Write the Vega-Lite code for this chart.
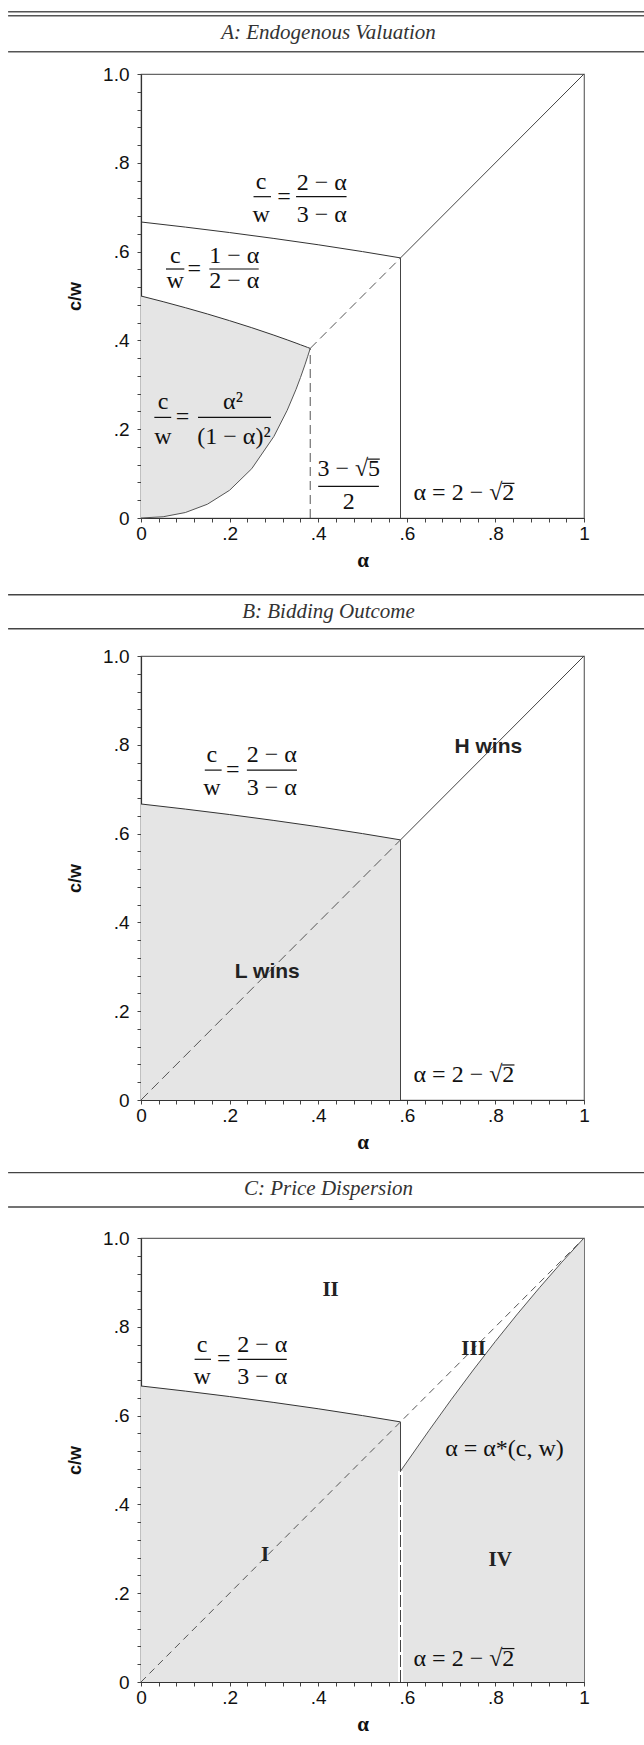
{
  "$schema": "https://vega.github.io/schema/vega-lite/v6.json",
  "autosize": {"type": "pad"},
  "padding": {"left": 6, "top": 10, "right": 0, "bottom": 0},
  "background": "white",
  "spacing": 138,
  "bounds": "flush",
  "config": {
    "view": {"stroke": "#666", "strokeWidth": 1.2},
    "axis": {"grid": false, "domainColor": "#333", "domainWidth": 1.2, "tickColor": "#444", "tickSize": 4, "tickWidth": 1, "tickCount": 40, "labelFont": "Liberation Sans", "labelFontSize": 19, "labelColor": "#111", "labelFlush": false, "labelOverlap": false, "titleColor": "#111"},
    "axisX": {"labelPadding": 2, "titleFont": "Liberation Serif", "titleFontSize": 21, "titleFontWeight": "bold", "titlePadding": 6},
    "axisY": {"labelPadding": 8, "titleFont": "Liberation Sans", "titleFontSize": 18, "titleFontWeight": "bold", "titlePadding": 18},
    "text": {"font": "Liberation Serif", "fontSize": 24, "color": "#111"},
    "line": {"color": "#333", "strokeWidth": 1},
    "rule": {"color": "#333", "strokeWidth": 1}
  },
  "datasets": {
    "shadeA": [
      {"a": 0, "top": 0.5, "bot": 0},
      {"a": 0.05, "top": 0.4872, "bot": 0.0028},
      {"a": 0.1, "top": 0.4737, "bot": 0.0123},
      {"a": 0.15, "top": 0.4595, "bot": 0.0311},
      {"a": 0.2, "top": 0.4444, "bot": 0.0625},
      {"a": 0.25, "top": 0.4286, "bot": 0.1111},
      {"a": 0.3, "top": 0.4118, "bot": 0.1837},
      {"a": 0.33, "top": 0.4012, "bot": 0.2426},
      {"a": 0.35, "top": 0.3939, "bot": 0.2899},
      {"a": 0.36, "top": 0.3902, "bot": 0.3164},
      {"a": 0.37, "top": 0.3865, "bot": 0.3449},
      {"a": 0.376, "top": 0.3842, "bot": 0.3631},
      {"a": 0.382, "top": 0.382, "bot": 0.382}
    ],
    "upper": [
      {"a": 0, "v": 0.6667}, {"a": 0.1, "v": 0.6552}, {"a": 0.2, "v": 0.6429}, {"a": 0.3, "v": 0.6296},
      {"a": 0.4, "v": 0.6154}, {"a": 0.5, "v": 0.6}, {"a": 0.5858, "v": 0.5858}
    ],
    "astar": [
      {"a": 0.5858, "v": 0.475}, {"a": 0.65, "v": 0.5663}, {"a": 0.7, "v": 0.6357}, {"a": 0.75, "v": 0.7027},
      {"a": 0.8, "v": 0.7672}, {"a": 0.85, "v": 0.8292}, {"a": 0.9, "v": 0.8886}, {"a": 0.95, "v": 0.9456}, {"a": 1, "v": 1}
    ],
    "segs": [
      {"p": "A", "seg": "diag_inner", "x": 0.382, "y": 0.382, "x2": 0.5858, "y2": 0.5858},
      {"p": "A", "seg": "diag_outer", "x": 0.5858, "y": 0.5858, "x2": 1, "y2": 1},
      {"p": "A", "seg": "v_3s5", "x": 0.382, "y": 0, "x2": 0.382, "y2": 0.382},
      {"p": "A", "seg": "v_2s2", "x": 0.5858, "y": 0, "x2": 0.5858, "y2": 0.5858},
      {"p": "B", "seg": "diag_inner", "x": 0, "y": 0, "x2": 0.5858, "y2": 0.5858},
      {"p": "B", "seg": "diag_outer", "x": 0.5858, "y": 0.5858, "x2": 1, "y2": 1},
      {"p": "B", "seg": "v_2s2", "x": 0.5858, "y": 0, "x2": 0.5858, "y2": 0.5858},
      {"p": "C", "seg": "diag_full", "x": 0, "y": 0, "x2": 1, "y2": 1},
      {"p": "C", "seg": "v_2s2_low", "x": 0.5858, "y": 0, "x2": 0.5858, "y2": 0.475},
      {"p": "C", "seg": "v_2s2", "x": 0.5858, "y": 0.475, "x2": 0.5858, "y2": 0.5858}
    ],
    "notes": [
      {"p": "A", "kind": "math", "t": "c", "x": 0.271, "y": 0.756},
      {"p": "A", "kind": "math", "t": "w", "x": 0.271, "y": 0.683},
      {"p": "A", "kind": "math", "t": "=", "x": 0.323, "y": 0.7237},
      {"p": "A", "kind": "math", "t": "2 − α", "x": 0.408, "y": 0.755},
      {"p": "A", "kind": "math", "t": "3 − α", "x": 0.408, "y": 0.683},
      {"p": "A", "kind": "math", "t": "c", "x": 0.0774, "y": 0.5908},
      {"p": "A", "kind": "math", "t": "w", "x": 0.0774, "y": 0.5345},
      {"p": "A", "kind": "math", "t": "=", "x": 0.1203, "y": 0.5608},
      {"p": "A", "kind": "math", "t": "1 − α", "x": 0.2106, "y": 0.5908},
      {"p": "A", "kind": "math", "t": "2 − α", "x": 0.2106, "y": 0.5345},
      {"p": "A", "kind": "math", "t": "c", "x": 0.0497, "y": 0.2604},
      {"p": "A", "kind": "math", "t": "w", "x": 0.0497, "y": 0.1831},
      {"p": "A", "kind": "math", "t": "=", "x": 0.0939, "y": 0.2266},
      {"p": "A", "kind": "math", "t": "α²", "x": 0.2077, "y": 0.2604},
      {"p": "A", "kind": "math", "t": "(1 − α)²", "x": 0.2099, "y": 0.1831},
      {"p": "A", "kind": "math", "t": "3 − √5", "x": 0.469, "y": 0.11},
      {"p": "A", "kind": "math", "t": "2", "x": 0.469, "y": 0.0351},
      {"p": "A", "kind": "math", "t": "α = 2 − √2", "x": 0.729, "y": 0.0554},
      {"p": "B", "kind": "outcome", "t": "H wins", "x": 0.784, "y": 0.7957},
      {"p": "B", "kind": "outcome", "t": "L wins", "x": 0.285, "y": 0.289},
      {"p": "B", "kind": "math", "t": "c", "x": 0.16, "y": 0.777},
      {"p": "B", "kind": "math", "t": "w", "x": 0.16, "y": 0.702},
      {"p": "B", "kind": "math", "t": "=", "x": 0.207, "y": 0.743},
      {"p": "B", "kind": "math", "t": "2 − α", "x": 0.295, "y": 0.777},
      {"p": "B", "kind": "math", "t": "3 − α", "x": 0.295, "y": 0.702},
      {"p": "B", "kind": "math", "t": "α = 2 − √2", "x": 0.729, "y": 0.0563},
      {"p": "C", "kind": "region", "t": "II", "x": 0.428, "y": 0.882},
      {"p": "C", "kind": "region", "t": "III", "x": 0.7508, "y": 0.751},
      {"p": "C", "kind": "region", "t": "I", "x": 0.28, "y": 0.2853},
      {"p": "C", "kind": "region", "t": "IV", "x": 0.811, "y": 0.274},
      {"p": "C", "kind": "math", "t": "c", "x": 0.138, "y": 0.76},
      {"p": "C", "kind": "math", "t": "w", "x": 0.138, "y": 0.687},
      {"p": "C", "kind": "math", "t": "=", "x": 0.187, "y": 0.7268},
      {"p": "C", "kind": "math", "t": "2 − α", "x": 0.274, "y": 0.76},
      {"p": "C", "kind": "math", "t": "3 − α", "x": 0.274, "y": 0.687},
      {"p": "C", "kind": "math", "t": "α = α*(c, w)", "x": 0.8205, "y": 0.5257},
      {"p": "C", "kind": "math", "t": "α = 2 − √2", "x": 0.729, "y": 0.0527}
    ],
    "bars": [
      {"p": "A", "x": 0.254, "x2": 0.2935, "y": 0.7237},
      {"p": "A", "x": 0.35, "x2": 0.464, "y": 0.7237},
      {"p": "A", "x": 0.0564, "x2": 0.0978, "y": 0.5608},
      {"p": "A", "x": 0.1542, "x2": 0.2657, "y": 0.5608},
      {"p": "A", "x": 0.0301, "x2": 0.0682, "y": 0.2266},
      {"p": "A", "x": 0.1287, "x2": 0.2935, "y": 0.2266},
      {"p": "A", "x": 0.4, "x2": 0.537, "y": 0.0712},
      {"p": "A", "x": 0.511, "x2": 0.539, "y": 0.1326},
      {"p": "A", "x": 0.815, "x2": 0.843, "y": 0.078},
      {"p": "B", "x": 0.144, "x2": 0.182, "y": 0.743},
      {"p": "B", "x": 0.239, "x2": 0.352, "y": 0.743},
      {"p": "B", "x": 0.815, "x2": 0.843, "y": 0.0789},
      {"p": "C", "x": 0.121, "x2": 0.158, "y": 0.7268},
      {"p": "C", "x": 0.218, "x2": 0.329, "y": 0.7268},
      {"p": "C", "x": 0.815, "x2": 0.843, "y": 0.0753}
    ]
  },
  "vconcat": [
    {
      "width": 443, "height": 444,
      "layer": [
        {
          "data": {"name": "shadeA"},
          "mark": {"type": "area", "color": "#e5e5e5"},
          "encoding": {
            "x": {"field": "a", "type": "quantitative", "scale": {"domain": [0, 1], "nice": false, "zero": false},
              "axis": {"title": "α", "tickCount": 40, "values": [0,0.04,0.08,0.12,0.16,0.2,0.24,0.28,0.32,0.36,0.4,0.44,0.48,0.52,0.56,0.6,0.64,0.68,0.72,0.76,0.8,0.84,0.88,0.92,0.96,1],
                "labelExpr": "abs(datum.value * 5 - round(datum.value * 5)) > 0.01 ? '' : (datum.value < 0.01 ? '0' : (datum.value > 0.99 ? '1' : replace(format(datum.value, '.1f'), '0.', '.')))"}},
            "y": {"field": "top", "type": "quantitative", "scale": {"domain": [0, 1], "nice": false, "zero": false},
              "axis": {"title": "c/w", "tickCount": 40, "values": [0,0.04,0.08,0.12,0.16,0.2,0.24,0.28,0.32,0.36,0.4,0.44,0.48,0.52,0.56,0.6,0.64,0.68,0.72,0.76,0.8,0.84,0.88,0.92,0.96,1],
                "labelExpr": "abs(datum.value * 5 - round(datum.value * 5)) > 0.01 ? '' : (datum.value < 0.01 ? '0' : (datum.value > 0.99 ? '1.0' : replace(format(datum.value, '.1f'), '0.', '.')))"}},
            "y2": {"field": "bot"}
          }
        },
        {
          "data": {"name": "shadeA"},
          "mark": {"type": "line", "color": "#333"},
          "encoding": {"x": {"field": "a", "type": "quantitative"}, "y": {"field": "top", "type": "quantitative"}}
        },
        {
          "data": {"name": "shadeA"},
          "mark": {"type": "line", "color": "#555"},
          "encoding": {"x": {"field": "a", "type": "quantitative"}, "y": {"field": "bot", "type": "quantitative"}}
        },
        {
          "data": {"name": "upper"},
          "mark": {"type": "line", "color": "#333"},
          "encoding": {"x": {"field": "a", "type": "quantitative"}, "y": {"field": "v", "type": "quantitative"}}
        },
        {
          "data": {"name": "segs"},
          "transform": [{"filter": "datum.p == 'A' && indexof(['diag_outer', 'v_2s2'], datum.seg) >= 0"}],
          "mark": {"type": "rule", "color": "#444"},
          "encoding": {"x": {"field": "x", "type": "quantitative"}, "y": {"field": "y", "type": "quantitative"}, "x2": {"field": "x2"}, "y2": {"field": "y2"}}
        },
        {
          "data": {"name": "segs"},
          "transform": [{"filter": "datum.p == 'A' && indexof(['diag_inner', 'v_3s5'], datum.seg) >= 0"}],
          "mark": {"type": "rule", "color": "#555", "strokeDash": [9, 5]},
          "encoding": {"x": {"field": "x", "type": "quantitative"}, "y": {"field": "y", "type": "quantitative"}, "x2": {"field": "x2"}, "y2": {"field": "y2"}}
        },
        {
          "data": {"name": "bars"},
          "transform": [{"filter": "datum.p == 'A'"}],
          "mark": {"type": "rule", "color": "#111", "strokeWidth": 1.2},
          "encoding": {"x": {"field": "x", "type": "quantitative"}, "x2": {"field": "x2"}, "y": {"field": "y", "type": "quantitative"}}
        },
        {
          "data": {"name": "notes"},
          "transform": [{"filter": "datum.p == 'A' && datum.kind == 'math'"}],
          "mark": {"type": "text"},
          "encoding": {"x": {"field": "x", "type": "quantitative"}, "y": {"field": "y", "type": "quantitative"}, "text": {"field": "t"}}
        },
        {
          "data": {"values": [{}]},
          "mark": {"type": "rule", "color": "#555", "strokeWidth": 1.4},
          "encoding": {"x": {"datum": -0.3, "type": "quantitative"}, "x2": {"datum": 1.2}, "y": {"datum": 1.1403, "type": "quantitative"}}
        },
        {
          "data": {"values": [{}]},
          "mark": {"type": "rule", "color": "#555", "strokeWidth": 1.4},
          "encoding": {"x": {"datum": -0.3, "type": "quantitative"}, "x2": {"datum": 1.2}, "y": {"datum": 1.1313, "type": "quantitative"}}
        },
        {
          "data": {"values": [{}]},
          "mark": {"type": "rule", "color": "#555", "strokeWidth": 1.4},
          "encoding": {"x": {"datum": -0.3, "type": "quantitative"}, "x2": {"datum": 1.2}, "y": {"datum": 1.0502, "type": "quantitative"}}
        },
        {
          "data": {"values": [{}]},
          "mark": {"type": "text", "text": "A: Endogenous Valuation", "fontStyle": "italic", "fontSize": 21, "color": "#333"},
          "encoding": {"x": {"datum": 0.4233, "type": "quantitative"}, "y": {"datum": 1.0914, "type": "quantitative"}}
        }
      ]
    },
    {
      "width": 443, "height": 444,
      "layer": [
        {
          "data": {"name": "upper"},
          "mark": {"type": "area", "color": "#e5e5e5"},
          "encoding": {
            "x": {"field": "a", "type": "quantitative", "scale": {"domain": [0, 1], "nice": false, "zero": false},
              "axis": {"title": "α", "tickCount": 40, "values": [0,0.04,0.08,0.12,0.16,0.2,0.24,0.28,0.32,0.36,0.4,0.44,0.48,0.52,0.56,0.6,0.64,0.68,0.72,0.76,0.8,0.84,0.88,0.92,0.96,1],
                "labelExpr": "abs(datum.value * 5 - round(datum.value * 5)) > 0.01 ? '' : (datum.value < 0.01 ? '0' : (datum.value > 0.99 ? '1' : replace(format(datum.value, '.1f'), '0.', '.')))"}},
            "y": {"field": "v", "type": "quantitative", "scale": {"domain": [0, 1], "nice": false, "zero": false},
              "axis": {"title": "c/w", "tickCount": 40, "values": [0,0.04,0.08,0.12,0.16,0.2,0.24,0.28,0.32,0.36,0.4,0.44,0.48,0.52,0.56,0.6,0.64,0.68,0.72,0.76,0.8,0.84,0.88,0.92,0.96,1],
                "labelExpr": "abs(datum.value * 5 - round(datum.value * 5)) > 0.01 ? '' : (datum.value < 0.01 ? '0' : (datum.value > 0.99 ? '1.0' : replace(format(datum.value, '.1f'), '0.', '.')))"}},
            "y2": {"datum": 0}
          }
        },
        {
          "data": {"name": "upper"},
          "mark": {"type": "line", "color": "#333"},
          "encoding": {"x": {"field": "a", "type": "quantitative"}, "y": {"field": "v", "type": "quantitative"}}
        },
        {
          "data": {"name": "segs"},
          "transform": [{"filter": "datum.p == 'B' && indexof(['diag_outer', 'v_2s2'], datum.seg) >= 0"}],
          "mark": {"type": "rule", "color": "#444"},
          "encoding": {"x": {"field": "x", "type": "quantitative"}, "y": {"field": "y", "type": "quantitative"}, "x2": {"field": "x2"}, "y2": {"field": "y2"}}
        },
        {
          "data": {"name": "segs"},
          "transform": [{"filter": "datum.p == 'B' && datum.seg == 'diag_inner'"}],
          "mark": {"type": "rule", "color": "#555", "strokeDash": [10, 5]},
          "encoding": {"x": {"field": "x", "type": "quantitative"}, "y": {"field": "y", "type": "quantitative"}, "x2": {"field": "x2"}, "y2": {"field": "y2"}}
        },
        {
          "data": {"name": "bars"},
          "transform": [{"filter": "datum.p == 'B'"}],
          "mark": {"type": "rule", "color": "#111", "strokeWidth": 1.2},
          "encoding": {"x": {"field": "x", "type": "quantitative"}, "x2": {"field": "x2"}, "y": {"field": "y", "type": "quantitative"}}
        },
        {
          "data": {"name": "notes"},
          "transform": [{"filter": "datum.p == 'B' && datum.kind == 'math'"}],
          "mark": {"type": "text"},
          "encoding": {"x": {"field": "x", "type": "quantitative"}, "y": {"field": "y", "type": "quantitative"}, "text": {"field": "t"}}
        },
        {
          "data": {"name": "notes"},
          "transform": [{"filter": "datum.p == 'B' && datum.kind == 'outcome'"}],
          "mark": {"type": "text", "font": "Liberation Sans", "fontWeight": "bold", "fontSize": 21, "color": "#222"},
          "encoding": {"x": {"field": "x", "type": "quantitative"}, "y": {"field": "y", "type": "quantitative"}, "text": {"field": "t"}}
        },
        {
          "data": {"values": [{}]},
          "mark": {"type": "rule", "color": "#444", "strokeWidth": 1.4},
          "encoding": {"x": {"datum": -0.3, "type": "quantitative"}, "x2": {"datum": 1.2}, "y": {"datum": 1.138, "type": "quantitative"}}
        },
        {
          "data": {"values": [{}]},
          "mark": {"type": "rule", "color": "#444", "strokeWidth": 1.4},
          "encoding": {"x": {"datum": -0.3, "type": "quantitative"}, "x2": {"datum": 1.2}, "y": {"datum": 1.0615, "type": "quantitative"}}
        },
        {
          "data": {"values": [{}]},
          "mark": {"type": "text", "text": "B: Bidding Outcome", "fontStyle": "italic", "fontSize": 21, "color": "#333"},
          "encoding": {"x": {"datum": 0.4233, "type": "quantitative"}, "y": {"datum": 1.0991, "type": "quantitative"}}
        }
      ]
    },
    {
      "width": 443, "height": 444,
      "layer": [
        {
          "data": {"name": "upper"},
          "mark": {"type": "area", "color": "#e5e5e5"},
          "encoding": {
            "x": {"field": "a", "type": "quantitative", "scale": {"domain": [0, 1], "nice": false, "zero": false},
              "axis": {"title": "α", "tickCount": 40, "values": [0,0.04,0.08,0.12,0.16,0.2,0.24,0.28,0.32,0.36,0.4,0.44,0.48,0.52,0.56,0.6,0.64,0.68,0.72,0.76,0.8,0.84,0.88,0.92,0.96,1],
                "labelExpr": "abs(datum.value * 5 - round(datum.value * 5)) > 0.01 ? '' : (datum.value < 0.01 ? '0' : (datum.value > 0.99 ? '1' : replace(format(datum.value, '.1f'), '0.', '.')))"}},
            "y": {"field": "v", "type": "quantitative", "scale": {"domain": [0, 1], "nice": false, "zero": false},
              "axis": {"title": "c/w", "tickCount": 40, "values": [0,0.04,0.08,0.12,0.16,0.2,0.24,0.28,0.32,0.36,0.4,0.44,0.48,0.52,0.56,0.6,0.64,0.68,0.72,0.76,0.8,0.84,0.88,0.92,0.96,1],
                "labelExpr": "abs(datum.value * 5 - round(datum.value * 5)) > 0.01 ? '' : (datum.value < 0.01 ? '0' : (datum.value > 0.99 ? '1.0' : replace(format(datum.value, '.1f'), '0.', '.')))"}},
            "y2": {"datum": 0}
          }
        },
        {
          "data": {"name": "astar"},
          "mark": {"type": "area", "color": "#e5e5e5"},
          "encoding": {"x": {"field": "a", "type": "quantitative"}, "y": {"field": "v", "type": "quantitative"}, "y2": {"datum": 0}}
        },
        {
          "data": {"name": "segs"},
          "transform": [{"filter": "datum.p == 'C' && datum.seg == 'v_2s2_low'"}],
          "mark": {"type": "rule", "color": "white", "strokeWidth": 5},
          "encoding": {"x": {"field": "x", "type": "quantitative"}, "y": {"field": "y", "type": "quantitative"}, "x2": {"field": "x2"}, "y2": {"field": "y2"}}
        },
        {
          "data": {"name": "upper"},
          "mark": {"type": "line", "color": "#333"},
          "encoding": {"x": {"field": "a", "type": "quantitative"}, "y": {"field": "v", "type": "quantitative"}}
        },
        {
          "data": {"name": "astar"},
          "mark": {"type": "line", "color": "#555"},
          "encoding": {"x": {"field": "a", "type": "quantitative"}, "y": {"field": "v", "type": "quantitative"}}
        },
        {
          "data": {"name": "segs"},
          "transform": [{"filter": "datum.p == 'C' && datum.seg == 'v_2s2'"}],
          "mark": {"type": "rule", "color": "#444"},
          "encoding": {"x": {"field": "x", "type": "quantitative"}, "y": {"field": "y", "type": "quantitative"}, "x2": {"field": "x2"}, "y2": {"field": "y2"}}
        },
        {
          "data": {"name": "segs"},
          "transform": [{"filter": "datum.p == 'C' && datum.seg == 'diag_full'"}],
          "mark": {"type": "rule", "color": "#555", "strokeDash": [7, 5]},
          "encoding": {"x": {"field": "x", "type": "quantitative"}, "y": {"field": "y", "type": "quantitative"}, "x2": {"field": "x2"}, "y2": {"field": "y2"}}
        },
        {
          "data": {"name": "segs"},
          "transform": [{"filter": "datum.p == 'C' && datum.seg == 'v_2s2_low'"}],
          "mark": {"type": "rule", "color": "#444", "strokeDash": [12, 3]},
          "encoding": {"x": {"field": "x", "type": "quantitative"}, "y": {"field": "y", "type": "quantitative"}, "x2": {"field": "x2"}, "y2": {"field": "y2"}}
        },
        {
          "data": {"name": "bars"},
          "transform": [{"filter": "datum.p == 'C'"}],
          "mark": {"type": "rule", "color": "#111", "strokeWidth": 1.2},
          "encoding": {"x": {"field": "x", "type": "quantitative"}, "x2": {"field": "x2"}, "y": {"field": "y", "type": "quantitative"}}
        },
        {
          "data": {"name": "notes"},
          "transform": [{"filter": "datum.p == 'C' && datum.kind == 'math'"}],
          "mark": {"type": "text"},
          "encoding": {"x": {"field": "x", "type": "quantitative"}, "y": {"field": "y", "type": "quantitative"}, "text": {"field": "t"}}
        },
        {
          "data": {"name": "notes"},
          "transform": [{"filter": "datum.p == 'C' && datum.kind == 'region'"}],
          "mark": {"type": "text", "fontWeight": "bold", "fontSize": 21, "color": "#222"},
          "encoding": {"x": {"field": "x", "type": "quantitative"}, "y": {"field": "y", "type": "quantitative"}, "text": {"field": "t"}}
        },
        {
          "data": {"values": [{}]},
          "mark": {"type": "rule", "color": "#444", "strokeWidth": 1.4},
          "encoding": {"x": {"datum": -0.3, "type": "quantitative"}, "x2": {"datum": 1.2}, "y": {"datum": 1.1473, "type": "quantitative"}}
        },
        {
          "data": {"values": [{}]},
          "mark": {"type": "rule", "color": "#444", "strokeWidth": 1.4},
          "encoding": {"x": {"datum": -0.3, "type": "quantitative"}, "x2": {"datum": 1.2}, "y": {"datum": 1.0698, "type": "quantitative"}}
        },
        {
          "data": {"values": [{}]},
          "mark": {"type": "text", "text": "C: Price Dispersion", "fontStyle": "italic", "fontSize": 21, "color": "#333"},
          "encoding": {"x": {"datum": 0.4233, "type": "quantitative"}, "y": {"datum": 1.1101, "type": "quantitative"}}
        }
      ]
    }
  ]
}
